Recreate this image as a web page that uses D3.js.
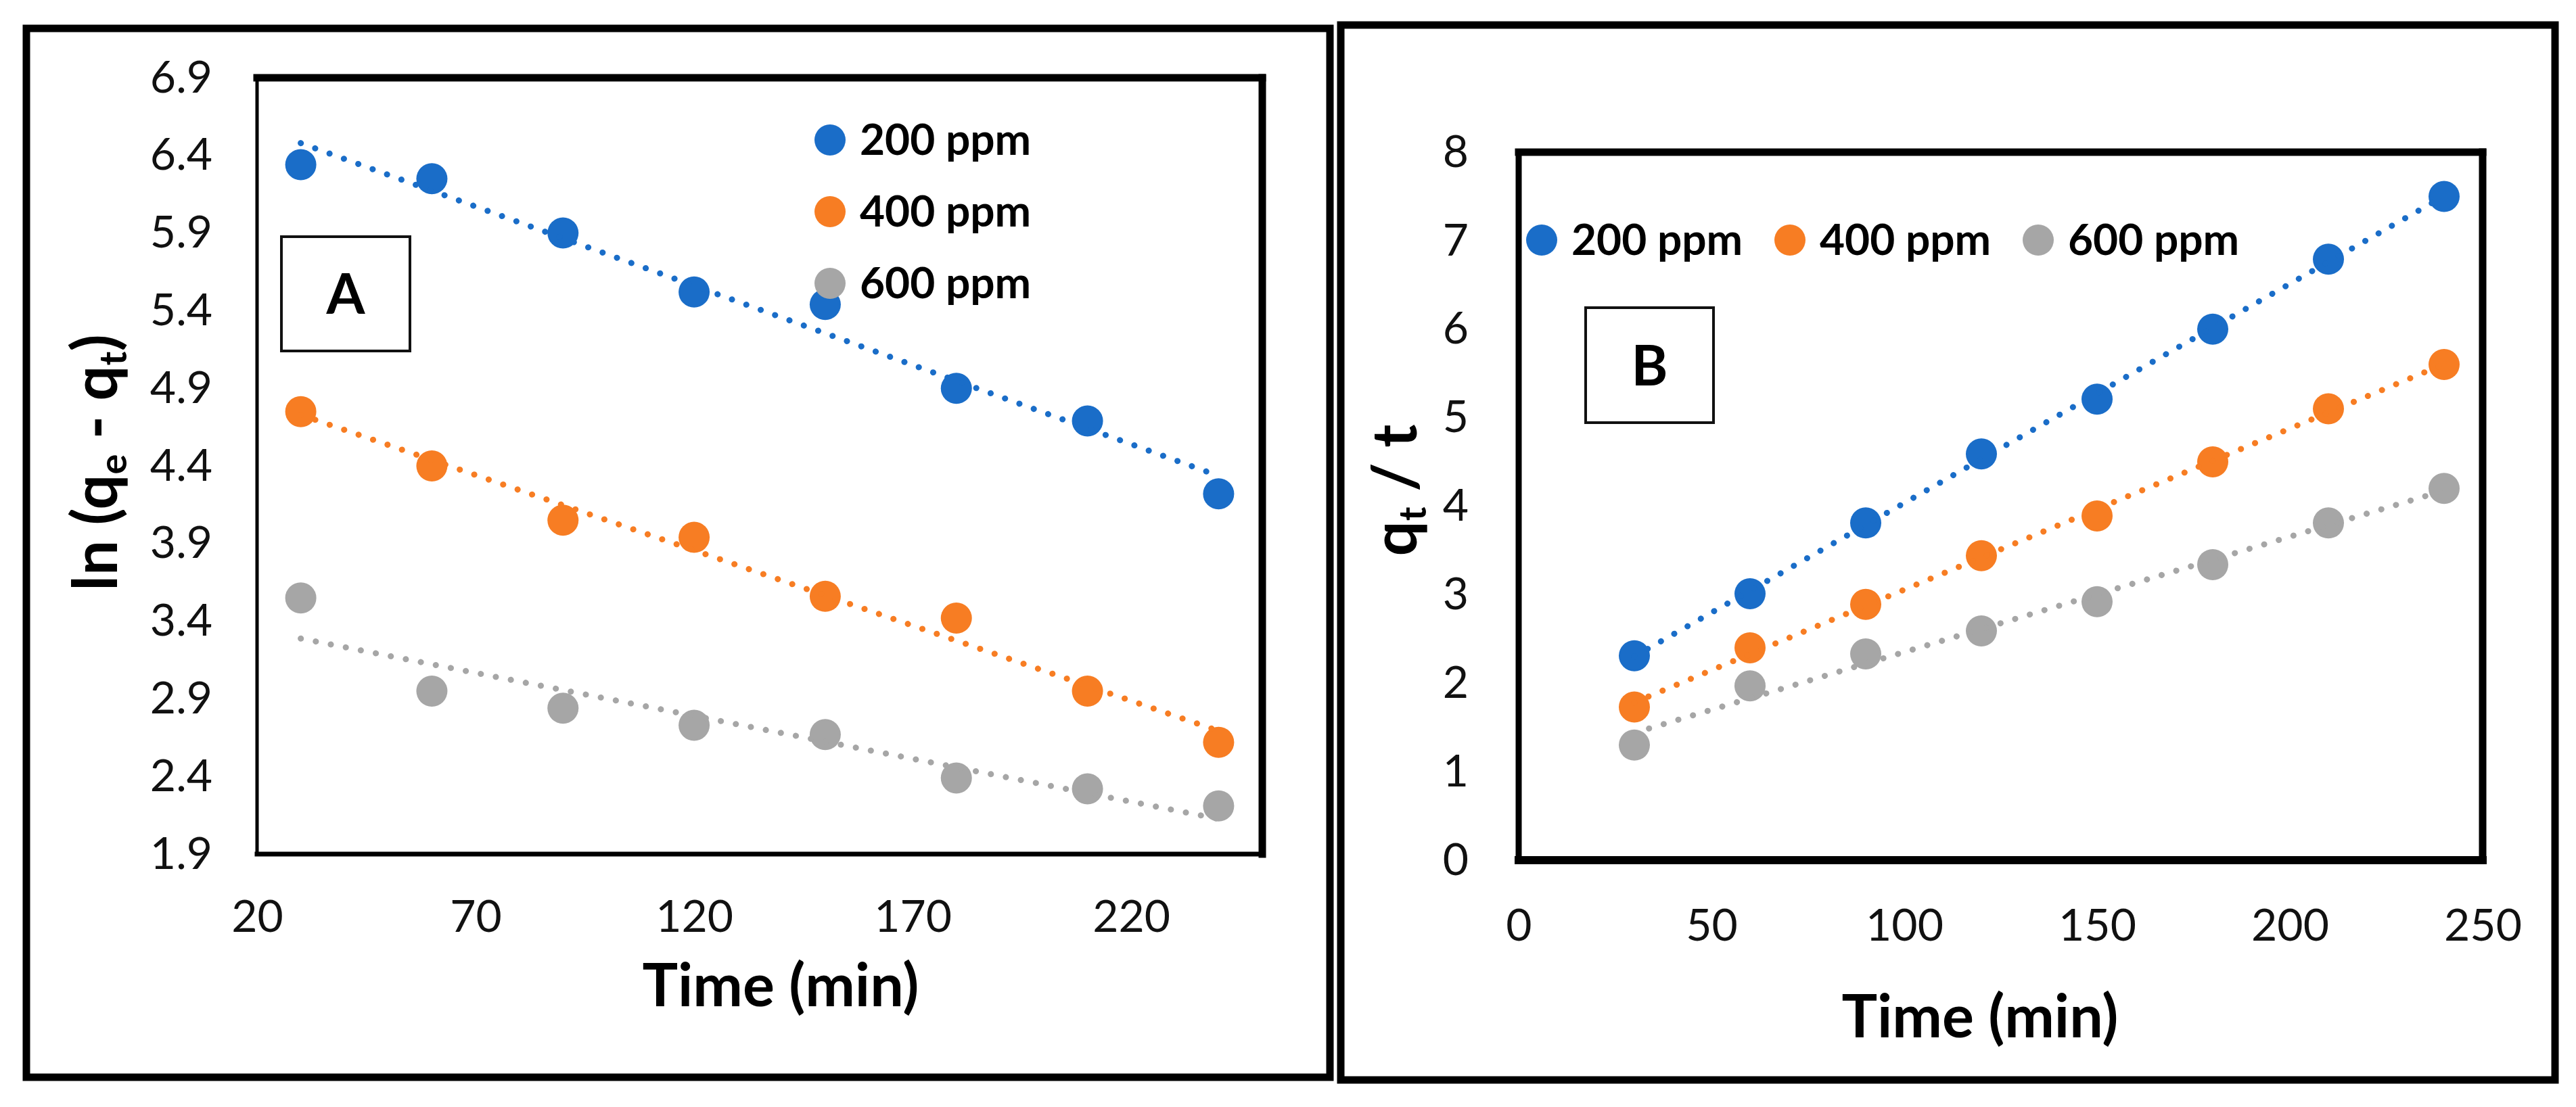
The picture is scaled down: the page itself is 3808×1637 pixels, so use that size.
<!DOCTYPE html>
<html>
<head>
<meta charset="utf-8">
<script src="https://cdnjs.cloudflare.com/ajax/libs/d3/7.8.5/d3.min.js"></script>
<style>
  body { margin: 0; background: #fff; }
  svg { display: block; font-family: Lato, "Open Sans", sans-serif; }
</style>
</head>
<body>
<div id="chart"></div>
<script>
// Data
const times = [30, 60, 90, 120, 150, 180, 210, 240];
const seriesNames = ["200 ppm", "400 ppm", "600 ppm"];
const seriesColors = ["#1a6dc8", "#f77d23", "#a6a6a6"];

// Panel A: ln(qe - qt)
const lnA200 = [6.34, 6.25, 5.90, 5.52, 5.44, 4.90, 4.69, 4.22];
const lnA400 = [4.75, 4.40, 4.05, 3.94, 3.56, 3.42, 2.95, 2.62];
const lnA600 = [3.55, 2.95, 2.84, 2.73, 2.67, 2.39, 2.32, 2.21];
const xTicksA = [20, 70, 120, 170, 220];
const yTicksA = [1.9, 2.4, 2.9, 3.4, 3.9, 4.4, 4.9, 5.4, 5.9, 6.4, 6.9];

// Panel B: qt / t
const qtB200 = [2.31, 3.01, 3.81, 4.59, 5.21, 6.00, 6.79, 7.50];
const qtB400 = [1.73, 2.40, 2.89, 3.44, 3.89, 4.50, 5.10, 5.60];
const qtB600 = [1.30, 1.97, 2.33, 2.59, 2.92, 3.34, 3.81, 4.20];
const xTicksB = [0, 50, 100, 150, 200, 250];
const yTicksB = [0, 1, 2, 3, 4, 5, 6, 7, 8];

const width = 3808;
const height = 1637;

const svg = d3.select("#chart")
    .append("svg")
    .attr("width", width)
    .attr("height", height);

svg.append("rect")
    .attr("width", width)
    .attr("height", height)
    .attr("fill", "#fff");

// least squares line, like the Excel linear trendline
function linearFit(xs, ys) {
    const mx = d3.mean(xs), my = d3.mean(ys);
    let sxy = 0, sxx = 0;
    xs.forEach((x, i) => { sxy += (x - mx) * (ys[i] - my); sxx += (x - mx) * (x - mx); });
    const slope = sxy / sxx;
    return x => my + slope * (x - mx);
}

function drawPanel(p) {
    const g = svg.append("g");

    // outer frame
    g.append("rect")
        .attr("x", p.frame[0]).attr("y", p.frame[1])
        .attr("width", p.frame[2] - p.frame[0])
        .attr("height", p.frame[3] - p.frame[1])
        .attr("fill", "none")
        .attr("stroke", "#000")
        .attr("stroke-width", 11);

    // Scales
    const x = d3.scaleLinear().domain(p.xDomain).range([p.plot.left, p.plot.right]);
    const y = d3.scaleLinear().domain(p.yDomain).range([p.plot.bottom, p.plot.top]);

    // Axes (labels only, Excel style)
    const xAxis = g.append("g")
        .attr("transform", `translate(0,${p.plot.bottom})`)
        .call(d3.axisBottom(x).tickValues(p.xTicks).tickSize(0).tickPadding(p.xPad).tickFormat(d3.format("d")));
    const yAxis = g.append("g")
        .attr("transform", `translate(${p.plot.left},0)`)
        .call(d3.axisLeft(y).tickValues(p.yTicks).tickSize(0).tickPadding(p.yPad).tickFormat(p.yFormat));
    [xAxis, yAxis].forEach(a => {
        a.select(".domain").remove();
        a.selectAll("text")
            .style("font-family", "Lato, sans-serif")
            .style("font-size", "66px")
            .attr("fill", "#111");
    });

    // plot border, sides of unequal weight as in the picture
    const b = p.plot;
    const sides = [
        [b.left, b.top, b.right, b.top, p.border[0]],
        [b.right, b.top, b.right, b.bottom, p.border[1]],
        [b.left, b.bottom, b.right, b.bottom, p.border[2]],
        [b.left, b.top, b.left, b.bottom, p.border[3]]
    ];
    g.selectAll(".side")
        .data(sides)
        .enter()
        .append("line")
        .attr("x1", d => d[0]).attr("y1", d => d[1])
        .attr("x2", d => d[2]).attr("y2", d => d[3])
        .attr("stroke", "#000")
        .attr("stroke-width", d => d[4])
        .attr("stroke-linecap", "square");

    // Points
    p.series.forEach((vals, i) => {
        g.selectAll(null)
            .data(times.map((t, j) => ({ t: t, v: vals[j] })))
            .enter()
            .append("circle")
            .attr("cx", d => x(d.t))
            .attr("cy", d => y(d.v))
            .attr("r", 23)
            .attr("fill", seriesColors[i]);
    });

    // Dotted trendlines
    p.series.forEach((vals, i) => {
        const fit = linearFit(times, vals);
        const ends = [d3.min(times), d3.max(times)];
        g.append("path")
            .datum(ends)
            .attr("d", d3.line().x(t => x(t)).y(t => y(fit(t))))
            .attr("fill", "none")
            .attr("stroke", seriesColors[i])
            .attr("stroke-width", 9)
            .attr("stroke-linecap", "round")
            .attr("stroke-dasharray", "0.1 22.5");
    });

    // Legend
    seriesNames.forEach((name, i) => {
        const lx = p.legend.x + i * p.legend.dx;
        const ly = p.legend.y + i * p.legend.dy;
        g.append("circle")
            .attr("cx", lx).attr("cy", ly).attr("r", 23)
            .attr("fill", seriesColors[i]);
        g.append("text")
            .attr("x", lx + 44).attr("y", ly)
            .attr("dy", "0.35em")
            .style("font-size", "64px")
            .style("font-weight", "bold")
            .text(name);
    });

    // Panel letter box
    g.append("rect")
        .attr("x", p.box[0]).attr("y", p.box[1])
        .attr("width", p.box[2] - p.box[0])
        .attr("height", p.box[3] - p.box[1])
        .attr("fill", "#fff")
        .attr("stroke", "#111")
        .attr("stroke-width", 4);
    g.append("text")
        .attr("x", (p.box[0] + p.box[2]) / 2)
        .attr("y", (p.box[1] + p.box[3]) / 2)
        .attr("dy", "0.36em")
        .attr("text-anchor", "middle")
        .style("font-size", "82px")
        .style("font-weight", "bold")
        .text(p.letter);

    // X title
    g.append("text")
        .attr("x", p.xTitle[0])
        .attr("y", p.xTitle[1])
        .attr("text-anchor", "middle")
        .style("font-size", "88px")
        .style("font-weight", "bold")
        .text("Time (min)");

    // Y title, rotated, with subscripts
    const yt = g.append("text")
        .attr("transform", `translate(${p.yTitle[0]},${p.yTitle[1]}) rotate(-90)`)
        .attr("text-anchor", "middle")
        .style("font-size", "92px")
        .style("font-weight", "bold");
    p.yTitleParts.forEach(part => {
        const t = yt.append("tspan").text(part.s);
        if (part.sub) t.attr("dy", 14).style("font-size", "56px");
        if (part.back) t.attr("dy", -14);
    });
}

drawPanel({
    frame: [39, 42, 1966, 1593],
    plot: { left: 380, right: 1866, top: 115, bottom: 1263 },
    border: [11, 11, 7, 5],
    xDomain: [20, 250], yDomain: [1.9, 6.9],
    xTicks: xTicksA, yTicks: yTicksA,
    yFormat: d3.format(".1f"),
    xPad: 68, yPad: 66,
    series: [lnA200, lnA400, lnA600],
    legend: { x: 1227, y: 207, dx: 0, dy: 106 },
    box: [416, 350, 606, 519], letter: "A",
    xTitle: [1154, 1488],
    yTitle: [173, 684],
    yTitleParts: [
        { s: "ln (q" }, { s: "e", sub: true }, { s: " - q", back: true },
        { s: "t", sub: true }, { s: ")", back: true }
    ]
});

drawPanel({
    frame: [1982, 37, 3777, 1597],
    plot: { left: 2245, right: 3670, top: 225, bottom: 1272 },
    border: [11, 11, 12, 9],
    xDomain: [0, 250], yDomain: [0, 8],
    xTicks: xTicksB, yTicks: yTicksB,
    yFormat: d3.format("d"),
    xPad: 72, yPad: 74,
    series: [qtB200, qtB400, qtB600],
    legend: { x: 2279, y: 355, dx: 367, dy: 0 },
    box: [2344, 455, 2533, 625], letter: "B",
    xTitle: [2927, 1534],
    yTitle: [2094, 725],
    yTitleParts: [
        { s: "q" }, { s: "t", sub: true }, { s: " / t", back: true }
    ]
});
</script>
</body>
</html>
